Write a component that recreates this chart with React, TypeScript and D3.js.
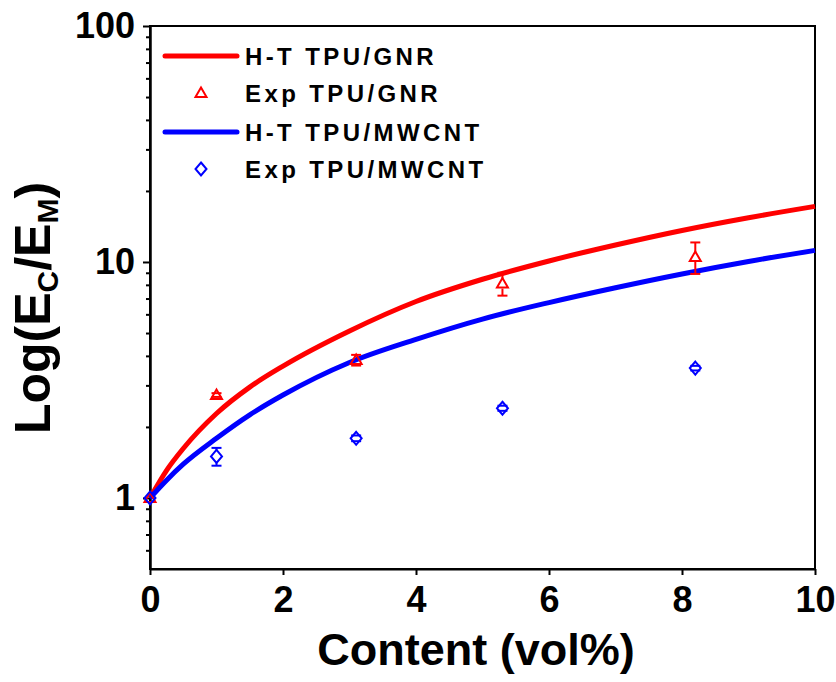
import React, { useEffect, useRef } from "react";
import * as d3 from "d3";

// Halpin-Tsai curves, values
const contentGrid = [0, 0.25, 0.5, 1, 1.5, 2, 3, 4, 5, 6, 7, 8, 9, 10];
const htGnr = [1, 1.31, 1.62, 2.28, 2.95, 3.62, 5.1, 6.8, 8.45, 10.1, 11.8, 13.6, 15.4, 17.2];
const htMwcnt = [1, 1.19, 1.39, 1.79, 2.25, 2.73, 3.75, 4.7, 5.73, 6.73, 7.78, 8.9, 10.05, 11.2];

// experimental points
const expContent = [0, 1, 3.1, 5.3, 8.2];
const expGnr = [1, 2.73, 3.84, 8.1, 10.5];
const expGnrErr = [0, 0.05, 0.2, 0.9, 1.6];
const expMwcnt = [1, 1.5, 1.79, 2.4, 3.55];
const expMwcntErr = [0, 0.13, 0.05, 0.06, 0.08];

const xTicks = [0, 2, 4, 6, 8, 10];
const yTicks = [1, 10, 100];
const yMinorTicks = [0.6, 0.7, 0.8, 0.9, 2, 3, 4, 5, 6, 7, 8, 9, 20, 30, 40, 50, 60, 70, 80, 90];
const legendLabels = ["H-T TPU/GNR", "Exp TPU/GNR", "H-T TPU/MWCNT", "Exp TPU/MWCNT"];

const RED = "#ff0000";
const BLUE = "#0000ff";
const FONT = "'Liberation Sans', Arial, sans-serif";

const triPath = "M0,-5.5L5.5,4L-5.5,4Z";
const diaPath = "M0,-6.5L5.5,0L0,6.5L-5.5,0Z";

const App = () => {
    const svgRef = useRef<SVGSVGElement>(null);

    useEffect(() => {
        const width = 836;
        const height = 682;
        const plot = { left: 150, right: 815, top: 26, bottom: 569 };

        d3.select(svgRef.current).selectAll("*").remove();
        const svg = d3.select(svgRef.current).attr("width", width).attr("height", height);

        const x = d3.scaleLinear().domain([0, 10]).range([plot.left, plot.right]);
        const y = d3.scaleLog().domain([0.5, 100]).range([plot.bottom, plot.top]);

        // frame
        svg.append("rect")
            .attr("x", plot.left).attr("y", plot.top)
            .attr("width", plot.right - plot.left).attr("height", plot.bottom - plot.top)
            .attr("fill", "none").attr("stroke", "#000").attr("stroke-width", 2);

        // y axis minor + major
        const yMinor = svg.append("g")
            .attr("transform", `translate(${plot.left},0)`)
            .call(d3.axisLeft(y).tickValues(yMinorTicks).tickSize(4).tickSizeOuter(0).tickFormat(() => ""));
        const yMajor = svg.append("g")
            .attr("transform", `translate(${plot.left},0)`)
            .call(d3.axisLeft(y).tickValues(yTicks).tickSize(7).tickSizeOuter(0).tickPadding(8).tickFormat(d3.format("d")));

        const xAxis = svg.append("g")
            .attr("transform", `translate(0,${plot.bottom})`)
            .call(d3.axisBottom(x).tickValues(xTicks).tickSize(6).tickSizeOuter(0).tickPadding(11).tickFormat(d3.format("d")));

        [yMinor, yMajor, xAxis].forEach((g) => {
            g.select(".domain").attr("stroke-width", 2);
            g.selectAll(".tick line").attr("stroke-width", 2);
            g.selectAll("text")
                .attr("font-family", FONT)
                .attr("font-weight", "bold")
                .attr("font-size", 36)
                .attr("fill", "#000");
        });

        // axis titles
        svg.append("text")
            .attr("x", 476).attr("y", 665)
            .attr("text-anchor", "middle")
            .attr("font-family", FONT).attr("font-weight", "bold").attr("font-size", 45)
            .text("Content (vol%)");

        const yTitle = svg.append("text")
            .attr("transform", "translate(50,308) rotate(-90)")
            .attr("text-anchor", "middle")
            .attr("font-family", FONT).attr("font-weight", "bold").attr("font-size", 50);
        yTitle.append("tspan").text("Log(E");
        yTitle.append("tspan").attr("font-size", 30).attr("dy", 8).text("C");
        yTitle.append("tspan").attr("dy", -8).text("/E");
        yTitle.append("tspan").attr("font-size", 30).attr("dy", 8).text("M");
        yTitle.append("tspan").attr("dy", -8).text(")");

        // curves
        const line = d3.line<number>()
            .x((_, i) => x(contentGrid[i]))
            .y((d) => y(d))
            .curve(d3.curveMonotoneX);

        svg.append("path").attr("d", line(htGnr)).attr("fill", "none").attr("stroke", RED).attr("stroke-width", 5);
        svg.append("path").attr("d", line(htMwcnt)).attr("fill", "none").attr("stroke", BLUE).attr("stroke-width", 5);

        // scatter with error bars (bars start at the marker edge)
        const drawExp = (vals: number[], errs: number[], color: string, shape: string, half: number) => {
            const g = svg.append("g");
            vals.forEach((v, i) => {
                const cx = x(expContent[i]);
                const cy = y(v);
                if (errs[i] > 0) {
                    const yt = y(v + errs[i]);
                    const yb = y(v - errs[i]);
                    if (cy - yt > half) {
                        g.append("line").attr("x1", cx).attr("x2", cx).attr("y1", cy - half).attr("y2", yt)
                            .attr("stroke", color).attr("stroke-width", 2);
                    }
                    if (yb - cy > half) {
                        g.append("line").attr("x1", cx).attr("x2", cx).attr("y1", cy + half).attr("y2", yb)
                            .attr("stroke", color).attr("stroke-width", 2);
                    }
                    [yt, yb].forEach((yy) => {
                        g.append("line").attr("x1", cx - 5).attr("x2", cx + 5).attr("y1", yy).attr("y2", yy)
                            .attr("stroke", color).attr("stroke-width", 2);
                    });
                }
                g.append("path").attr("d", shape)
                    .attr("transform", `translate(${cx},${cy})`)
                    .attr("fill", "none").attr("stroke", color).attr("stroke-width", 2);
            });
        };
        drawExp(expGnr, expGnrErr, RED, triPath, 5);
        drawExp(expMwcnt, expMwcntErr, BLUE, diaPath, 6.5);

        // legend
        const legend = svg.append("g");
        const rowY = [56, 93, 132, 169];
        const kinds = ["line", "tri", "line", "dia"];
        const colors = [RED, RED, BLUE, BLUE];
        legendLabels.forEach((label, i) => {
            if (kinds[i] === "line") {
                legend.append("line").attr("x1", 165).attr("x2", 237).attr("y1", rowY[i]).attr("y2", rowY[i])
                    .attr("stroke", colors[i]).attr("stroke-width", 5).attr("stroke-linecap", "round");
            } else {
                legend.append("path").attr("d", kinds[i] === "tri" ? triPath : diaPath)
                    .attr("transform", `translate(201,${rowY[i]})`)
                    .attr("fill", "none").attr("stroke", colors[i]).attr("stroke-width", 2);
            }
            legend.append("text")
                .attr("x", 245).attr("y", rowY[i] + 9)
                .attr("font-family", FONT).attr("font-weight", "bold").attr("font-size", 24)
                .attr("letter-spacing", 3.4)
                .text(label);
        });
    }, []);

    return <svg ref={svgRef} style={{ position: "absolute", left: 0, top: 0 }}></svg>;
};

export default App;
